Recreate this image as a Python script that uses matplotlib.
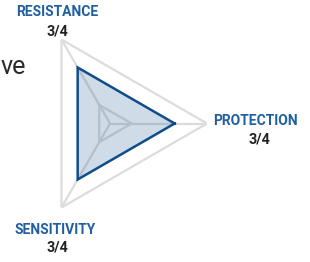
import numpy as np
import matplotlib
matplotlib.use("Agg")
import matplotlib.pyplot as plt

# categories and scores
categories = ["PROTECTION", "RESISTANCE", "SENSITIVITY"]
scores = [3, 3, 3]
score_labels = ["3/4", "3/4", "3/4"]
angles_deg = [0, 120, 240]
r_max = 4.5
inner_ring = 1

W, H = 310, 262
fig = plt.figure(figsize=(W / 100, H / 100), dpi=100)

# radar centre at (110, 123.5) px, outer radius 97 px
cx, cy, R = 110, 123.5, 97
ax = fig.add_axes([(cx - R) / W, (H - cy - R) / H, 2 * R / W, 2 * R / H], polar=True)
ax.set_ylim(0, r_max)
ax.axis("off")

theta = np.deg2rad(angles_deg + [angles_deg[0]])
grid_col = "#dcdcdc"

# outer and inner grid triangles
ax.plot(theta, [r_max] * 4, color=grid_col, lw=1.6, zorder=1)
ax.plot(theta, [inner_ring] * 4, color=grid_col, lw=1.6, zorder=1)
# spokes
for t in np.deg2rad(angles_deg):
    ax.plot([t, t], [0, r_max], color=grid_col, lw=1.6, zorder=1)

# data polygon
vals = scores + [scores[0]]
ax.fill(theta, vals, color="#0f4c8a", alpha=0.2, lw=0, zorder=2)
ax.plot(theta, vals, color="#0f4c8a", lw=1.8, zorder=3, solid_joinstyle="miter")

# labels
blue = "#1f5fa0"
lab_pos = {"RESISTANCE": ((57.5, 12), (57, 31)),
           "PROTECTION": ((255, 121), (259.5, 139)),
           "SENSITIVITY": ((55, 230), (57.5, 248))}
for name, lab in zip(categories, score_labels):
    (nx, ny), (sx, sy) = lab_pos[name]
    fig.text(nx / W, 1 - ny / H, name, ha="center", va="center", color=blue,
             fontsize=10, fontweight="bold", family="Roboto")
    fig.text(sx / W, 1 - sy / H, lab, ha="center", va="center", color="#222222",
             fontsize=10.3, fontweight="bold", family="Roboto")

# cut-off word at left edge
fig.text(0.5 / W, 1 - 67 / H, "ve", ha="left", va="center", color="#2a2a2a",
         fontsize=18, family="Roboto")

fig.savefig("out.png", dpi=100)
